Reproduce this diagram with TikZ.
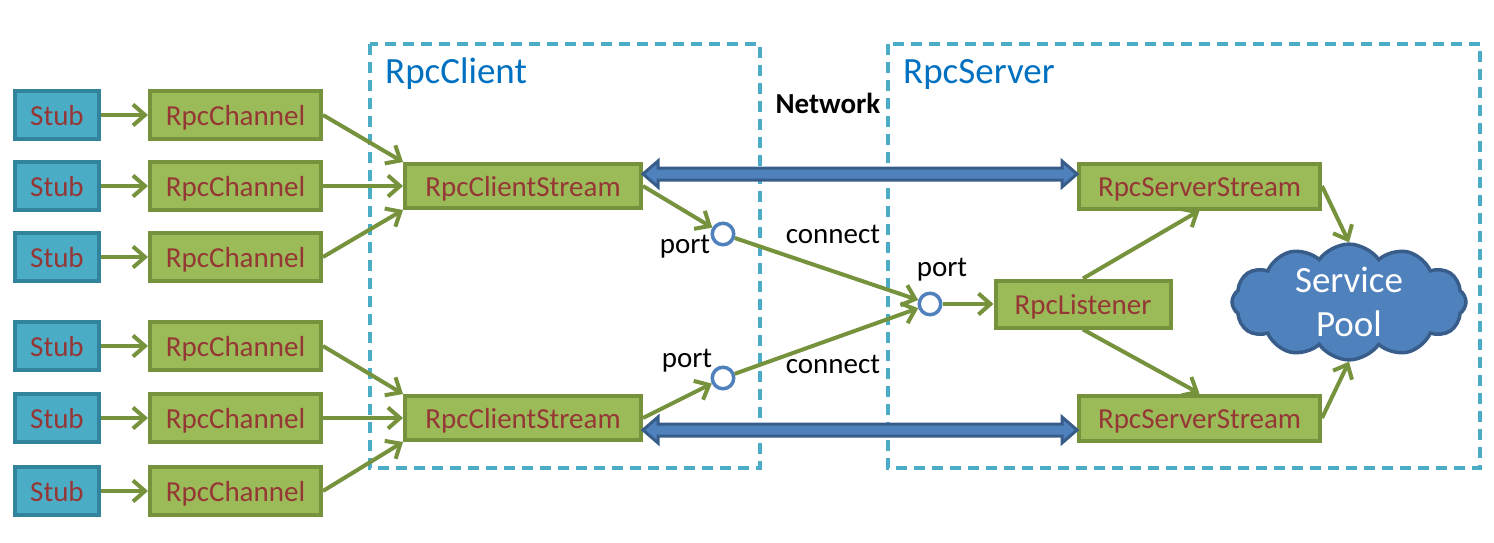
\documentclass[tikz,border=0pt]{standalone}
\usepackage{fontspec}
\setmainfont{Carlito}
\usetikzlibrary{arrows.meta,shapes.symbols,calc}
\definecolor{stubfill}{HTML}{4BACC6}
\definecolor{stubdraw}{HTML}{31849B}
\definecolor{gfill}{HTML}{9BBB59}
\definecolor{gdraw}{HTML}{76923C}
\definecolor{txtred}{HTML}{953735}
\definecolor{dashc}{HTML}{4BACC6}
\definecolor{bluef}{HTML}{4F81BD}
\definecolor{blued}{HTML}{385D8A}
\definecolor{labelblue}{HTML}{0070C0}
\begin{document}
\begin{tikzpicture}[x=1pt,y=-1pt,
  box/.style={draw=gdraw, fill=gfill, line width=4pt, text=txtred,
    font=\fontsize{29}{34}\selectfont, inner sep=0pt, text height=22pt, text depth=2pt},
  stubbox/.style={box, draw=stubdraw, fill=stubfill, minimum width=84pt, minimum height=48pt},
  chanbox/.style={box, minimum width=171pt, minimum height=48pt},
  csbox/.style={box, minimum width=236pt, minimum height=44pt},
  ssbox/.style={box, minimum width=241pt, minimum height=45pt},
  lisbox/.style={box, minimum width=175pt, minimum height=47pt},
  garrow/.style={draw=gdraw, line width=4pt, -{Straight Barb[length=12pt, width=21pt]}},
  portc/.style={circle, draw=bluef, fill=white, line width=3.5pt, minimum size=21.5pt, inner sep=0pt},
  lbl/.style={font=\fontsize{29}{34}\selectfont, text=black, inner sep=0pt},
  region/.style={draw=dashc, line width=3.5pt, dash pattern=on 11pt off 7pt},
  regionlbl/.style={font=\fontsize{37}{44}\selectfont, text=labelblue, inner sep=0pt, anchor=base west},
  bigarrow/.style={fill=bluef, draw=blued, line width=3pt, line join=miter},
]
\useasboundingbox (0,0) rectangle (1494,543);

% regions
\draw[region] (370,44) rectangle (760,468);
\draw[region] (888,44) rectangle (1480,468);
\node[regionlbl] (lclient) at (385,84) {RpcClient};
\node[regionlbl] (lserver) at (903,84) {RpcServer};
\node[lbl, font=\fontsize{29}{34}\selectfont\bfseries] (net) at (828,103) {Network};

% stubs and channels
\foreach \i/\y in {1/115,2/186,3/257,4/346,5/418,6/491}{
  \node[stubbox] (s\i) at (57,\y) {Stub};
  \node[chanbox] (c\i) at (235.5,\y) {RpcChannel};
  \draw[garrow] (s\i.east) -- (c\i.west);
}

% client streams
\node[csbox] (csu) at (523,186) {RpcClientStream};
\node[csbox] (csl) at (523,418) {RpcClientStream};
\draw[garrow] (c1.east) -- (csu.north west);
\draw[garrow] (c2.east) -- (csu.west);
\draw[garrow] (c3.east) -- (csu.south west);
\draw[garrow] (c4.east) -- (csl.north west);
\draw[garrow] (c5.east) -- (csl.west);
\draw[garrow] (c6.east) -- (csl.south west);

% ports
\node[portc] (p1) at (723,234) {};
\node[portc] (p2) at (723,378) {};
\node[portc] (p3) at (930,304) {};
\node[lbl] (tp1) at (685,247) {port};
\node[lbl] (tp2) at (687,361) {port};
\node[lbl] (tp3) at (942,270) {port};
\node[lbl] (tc1) at (833,234) {connect};
\node[lbl] (tc2) at (833,364) {connect};

% server side
\node[lisbox] (lis) at (1083,304) {RpcListener};
\node[ssbox] (ssu) at (1199.5,186) {RpcServerStream};
\node[ssbox] (ssl) at (1199.5,418) {RpcServerStream};
\node[cloud, cloud puffs=12, cloud puff arc=110, cloud ignores aspect,
      minimum width=234pt, minimum height=114pt, fill=bluef, draw=blued, line width=3.5pt,
      text=white, align=center, inner sep=0pt,
      font=\fontsize{37}{44}\selectfont] (pool) at (1349,302) {Service\\Pool};

\draw[garrow] (csu.east) -- (p1);
\draw[garrow] (csl.east) -- (p2);
\draw[garrow] (p1) -- (p3);
\draw[garrow] (p2) -- (p3);
\draw[garrow] (p3) -- (lis.west);
\draw[garrow] (lis.north) -- (ssu.south);
\draw[garrow] (lis.south) -- (ssl.north);
\draw[garrow] (ssu.east) -- (pool.north);
\draw[garrow] (ssl.east) -- (pool.south);

% network double arrows
\foreach \a/\b/\dy in {csu/ssu/-12, csl/ssl/12}{
  \coordinate (A) at ($(\a.east)+(0,\dy)$);
  \coordinate (B) at ($(\b.west)+(0,\dy)$);
  \draw[bigarrow] (A) -- ($(A)+(15,-13)$) -- ($(A)+(15,-6)$) -- ($(B)+(-15,-6)$)
    -- ($(B)+(-15,-13)$) -- (B) -- ($(B)+(-15,13)$) -- ($(B)+(-15,6)$)
    -- ($(A)+(15,6)$) -- ($(A)+(15,13)$) -- cycle;
}
\end{tikzpicture}
\end{document}
